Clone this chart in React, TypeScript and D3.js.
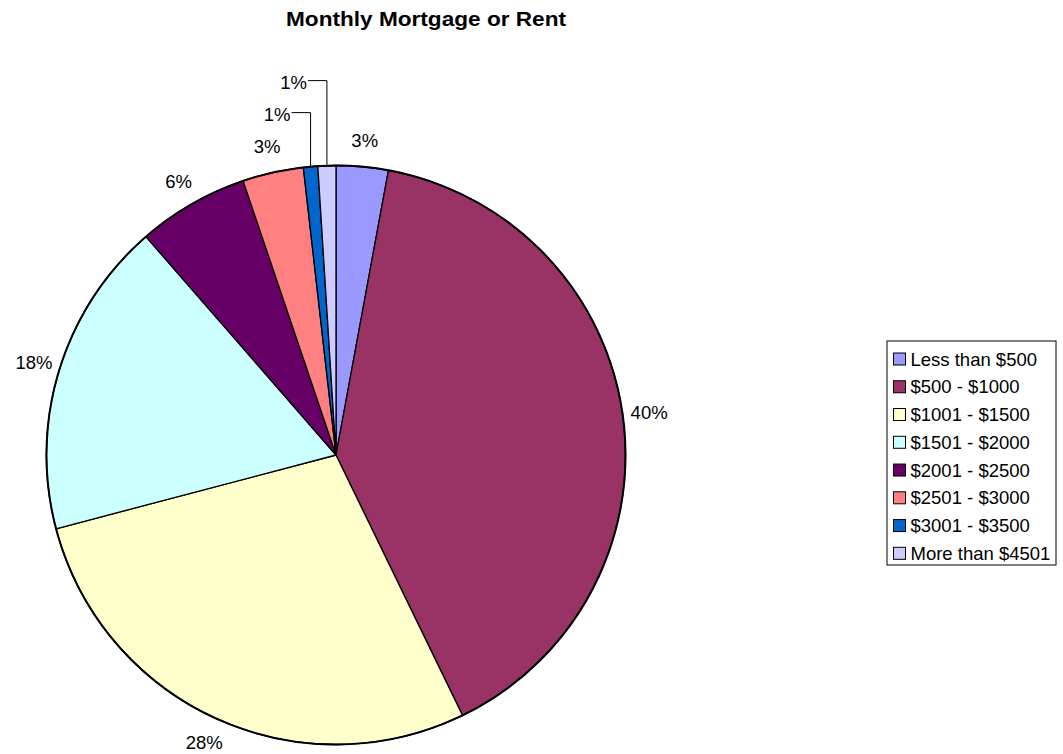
import React from "react";
import * as d3 from "d3";

const title = "Monthly Mortgage or Rent";
const categories = [
  "Less than $500",
  "$500 - $1000",
  "$1001 - $1500",
  "$1501 - $2000",
  "$2001 - $2500",
  "$2501 - $3000",
  "$3001 - $3500",
  "More than $4501",
];
const values = [2.9, 39.9, 28.1, 17.7, 6.2, 3.4, 0.8, 1.0];
const colors = ["#9999FF", "#993366", "#FFFFCC", "#CCFFFF", "#660066", "#FF8080", "#0066CC", "#CCCCFF"];

const W = 1063;
const H = 754;
const FONT = "'Liberation Sans', Arial, sans-serif";

export default function App() {
  const cx = 336;
  const cy = 455;
  const r = 289.5;
  const labelR = 316;
  const total = d3.sum(values);
  const pie = d3.pie<number>().sort(null).value((d) => d).startAngle(0).endAngle(2 * Math.PI);
  const arcs = pie(values);
  const arcGen = d3.arc<d3.PieArcDatum<number>>().innerRadius(0).outerRadius(r);

  // label layout: default radial placement, small slices become stacked callouts
  type Lab = { x: number; y: number; text: string; anchor: string; leader?: [number, number][] };
  const labels: Lab[] = [];
  let prevY = 0;
  arcs.forEach((a, i) => {
    const mid = (a.startAngle + a.endAngle) / 2;
    const s = Math.sin(mid);
    const c = Math.cos(mid);
    const text = `${Math.round((a.value / total) * 100)}%`;
    const pct = (a.value / total) * 100;
    if (pct < 1.5 && i > 0) {
      const y = prevY - 32;
      const ax = cx + r * s;
      const ay = cy - r * c;
      const tx = ax - 19;
      labels.push({
        x: tx - 1,
        y,
        text,
        anchor: "end",
        leader: [
          [tx, y - 2],
          [ax, y - 2],
          [ax, ay],
        ],
      });
      prevY = y;
    } else {
      const x = cx + labelR * s;
      const y = cy - labelR * c;
      labels.push({ x, y, text, anchor: "middle" });
      prevY = y;
    }
  });

  const legX = 887;
  const legY = 341;
  const legW = 169;
  const legH = 224;
  const rowH = 27.76;

  return (
    <svg width={W} height={H} style={{ position: "absolute", left: 0, top: 0, background: "#fff" }}>
      <text
        x={426}
        y={25.5}
        textAnchor="middle"
        fontFamily={FONT}
        fontWeight="bold"
        fontSize={19.5}
        textLength={280}
        lengthAdjust="spacingAndGlyphs"
        fill="#000"
      >
        {title}
      </text>
      <g transform={`translate(${cx},${cy})`}>
        {arcs.map((a, i) => (
          <path key={i} d={arcGen(a) || ""} fill={colors[i]} stroke="#000" strokeWidth={1.3} strokeLinejoin="round" />
        ))}
        <circle r={r} fill="none" stroke="#000" strokeWidth={2} />
      </g>
      {labels.map((l, i) => (
        <g key={i}>
          {l.leader && (
            <polyline
              points={l.leader.map((p) => p.join(",")).join(" ")}
              fill="none"
              stroke="#000"
              strokeWidth={1}
            />
          )}
          <text
            x={l.x}
            y={l.y}
            dy="0.36em"
            textAnchor={l.anchor as any}
            fontFamily={FONT}
            fontSize={18.5}
            fill="#000"
          >
            {l.text}
          </text>
        </g>
      ))}
      <rect x={legX} y={legY} width={legW} height={legH} fill="#fff" stroke="#000" strokeWidth={1} />
      {categories.map((cat, i) => {
        const yc = legY + 18 + i * rowH;
        return (
          <g key={cat}>
            <rect x={893.5} y={yc - 6} width={12} height={12} fill={colors[i]} stroke="#000" strokeWidth={1} />
            <text x={910.5} y={yc} dy="0.36em" fontFamily={FONT} fontSize={18.5} fill="#000">
              {cat}
            </text>
          </g>
        );
      })}
    </svg>
  );
}
